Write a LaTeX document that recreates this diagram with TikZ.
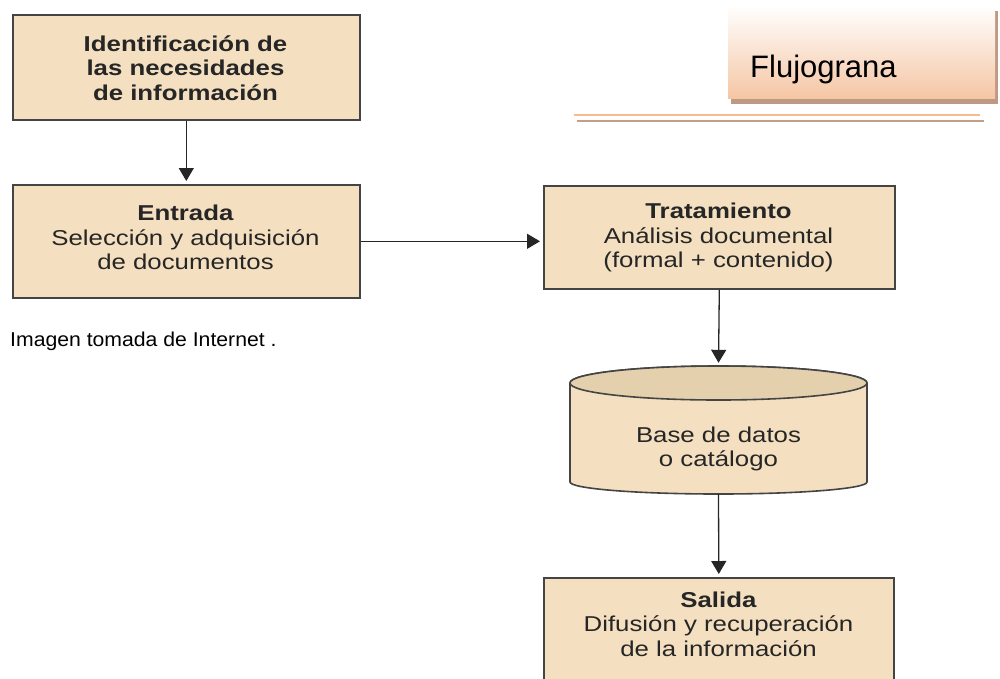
\documentclass[tikz,border=0pt]{standalone}
\usepackage{fontspec}
\setmainfont{Liberation Sans}
\newfontfamily\boxfont[FakeStretch=1.2]{Liberation Sans}
\newfontfamily\capfont[FakeStretch=1.06]{Liberation Sans}
\usetikzlibrary{arrows.meta}
\definecolor{boxfill}{HTML}{F4E0C0}
\definecolor{cyltop}{HTML}{E5D0AE}
\definecolor{boxline}{HTML}{444444}
\definecolor{txt}{HTML}{262626}
\definecolor{titlebot}{HTML}{F5C6A4}
\definecolor{shadowc}{HTML}{BE9A84}
\definecolor{lineor}{HTML}{F6BC8E}
\definecolor{linebr}{HTML}{C49E88}
\begin{document}
\begin{tikzpicture}[x=1pt,y=-1pt,
  flowbox/.style={draw=boxline,line width=1.6pt,fill=boxfill,rectangle,inner sep=0pt,anchor=north west},
  boxtext/.style={font=\boxfont\fontsize{21.5}{24.5}\selectfont,text=txt,align=center,inner sep=0pt},
  conn/.style={draw=black!85,line width=1.3pt,-{Triangle[width=15pt,length=13pt]},shorten >=3pt}]
\useasboundingbox (0,0) rectangle (1000,678);
\clip (0,0) rectangle (1000,678);

% title
\fill[shadowc] (731,11) rectangle (998,104);
\node (title) [anchor=north west,minimum width=267pt,minimum height=93pt,inner sep=0pt,
  top color=white,bottom color=titlebot] at (728,5) {};
\node (titletext) [anchor=base west,inner sep=0pt,font=\fontsize{31}{36}\selectfont] at (750,77) {Flujograna};
\coordinate (l1a) at (574,115); \coordinate (l1b) at (980,115);
\coordinate (l2a) at (577,121); \coordinate (l2b) at (984,121);
\draw[lineor,line width=2.8pt] (l1a) -- (l1b);
\draw[linebr,line width=2.8pt] (l2a) -- (l2b);

% boxes
\node (ident) [flowbox,minimum width=347pt,minimum height=105pt] at (12,14) {};
\node (identt) [boxtext] at (185.5,68) {\textbf{Identificación de}\\\textbf{las necesidades}\\\textbf{de información}};

\node (entrada) [flowbox,minimum width=347pt,minimum height=113pt] at (12,184) {};
\node (entradat) [boxtext] at (185.5,237.5) {\textbf{Entrada}\\Selección y adquisición\\de documentos};

\node (trat) [flowbox,minimum width=351pt,minimum height=103pt] at (543,185) {};
\node (tratt) [boxtext] at (718.5,237.5) {\textbf{Tratamiento}\\Análisis documental\\(formal + contenido)};

% cylinder
\node (db) [minimum width=297pt,minimum height=128pt,inner sep=0pt] at (718.5,430) {};
\filldraw[fill=boxfill,draw=boxline,line width=1.6pt]
  (570,383) -- (570,482) arc[start angle=180,end angle=360,x radius=148.5pt,y radius=12pt]
  -- (867,383) arc[start angle=0,end angle=180,x radius=148.5pt,y radius=17pt] -- cycle;
\filldraw[fill=cyltop,draw=boxline,line width=1.6pt] (718.5,383) ellipse[x radius=148.5pt,y radius=17pt];
\node (dbt) [boxtext] at (718.5,449) {Base de datos\\o catálogo};

\node (salida) [flowbox,minimum width=350pt,minimum height=130pt] at (543,577) {};
\node (salidat) [boxtext] at (718.5,624) {\textbf{Salida}\\Difusión y recuperación\\de la información};

% connectors
\draw[conn] (ident.south) -- (entrada.north);
\draw[conn] (entrada.east) -- (entrada.east -| trat.west);
\draw[conn] (trat.south) -- (db.north);
\draw[conn] (db.south) -- (salida.north);

% caption
\node (caption) [anchor=base west,inner sep=0pt,font=\capfont\fontsize{20}{24}\selectfont] at (10,346) {Imagen tomada de Internet .};
\end{tikzpicture}
\end{document}
